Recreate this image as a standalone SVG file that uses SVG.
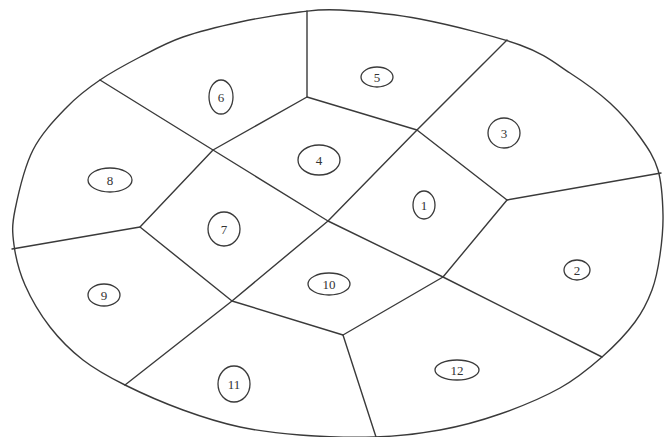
<svg xmlns="http://www.w3.org/2000/svg" width="664" height="437" viewBox="0 0 664 437">
<style>
.ln{fill:none;stroke:#3a3a3a;stroke-width:1.4;stroke-linejoin:round;stroke-linecap:round}
.lb ellipse{fill:none;stroke:#3a3a3a;stroke-width:1.3}
.lb text{font-family:"Liberation Serif","DejaVu Serif",serif;font-size:13px;fill:#333;text-anchor:middle;dominant-baseline:central}
</style>
<rect width="664" height="437" fill="#fff"/>
<g id="outline">
<path class="ln" d="M340,10 C360,11.17 390,13.17 420,19 S495,36 520,45 S555,63.3 570,73 S598.3,92.3 610,103 S632,125.8 640,137 S654.2,157 658,170 S662.7,200.8 663,215 S661.8,242.5 660,255 S656.2,278.8 652,290 S643.3,310.8 635,322 S614.5,346 602,357 S577,378.5 560,388 S520,407 500,414 S460.8,426.2 440,430 S398.3,436.2 375,437 S322.5,436.7 300,435 S259.5,431.2 240,427 S202.2,417 183,410 S141.7,393.3 125,385 S95.5,369.7 83,360 S59.7,339.5 50,327 S31,298.7 25,285 S15.7,257.5 14,245 S11.8,225.8 15,210 S24.3,167.2 33,150 S55.8,118.7 67,107 S87.8,88.3 100,80 S126.2,64.2 140,57 S166.3,42.8 183,37 S220.5,26.2 240,22 S283.3,14 300,12 S320,8.83 340,10 Z"/>
</g>
<g id="connectors">
<path class="ln" d="M100,80 L213,150 L328,221 L443,277 L602,357"/>
<path class="ln" d="M125,385 L232,301 L328,221 L417,130 L507,40"/>
<path class="ln" d="M307,11 L307,97 L417,130 L507,200 L661,173"/>
<path class="ln" d="M307,97 L213,150 L140,227 L12,249"/>
<path class="ln" d="M140,227 L232,301 L343,335 L443,277 L507,200"/>
<path class="ln" d="M343,335 L376,437"/>
</g>
<g id="cell-1" class="lb"><ellipse cx="424" cy="205" rx="11" ry="14"/><text x="424" y="205">1</text></g>
<g id="cell-2" class="lb"><ellipse cx="577" cy="270" rx="13" ry="10"/><text x="577" y="270">2</text></g>
<g id="cell-3" class="lb"><ellipse cx="504" cy="133" rx="16" ry="15"/><text x="504" y="133">3</text></g>
<g id="cell-4" class="lb"><ellipse cx="319" cy="160" rx="21" ry="15"/><text x="319" y="160">4</text></g>
<g id="cell-5" class="lb"><ellipse cx="377" cy="77" rx="16" ry="10"/><text x="377" y="77">5</text></g>
<g id="cell-6" class="lb"><ellipse cx="221" cy="97" rx="12" ry="17"/><text x="221" y="97">6</text></g>
<g id="cell-7" class="lb"><ellipse cx="224" cy="229" rx="16" ry="17"/><text x="224" y="229">7</text></g>
<g id="cell-8" class="lb"><ellipse cx="110" cy="180" rx="22" ry="12"/><text x="110" y="180">8</text></g>
<g id="cell-9" class="lb"><ellipse cx="104" cy="295" rx="16" ry="11"/><text x="104" y="295">9</text></g>
<g id="cell-10" class="lb"><ellipse cx="329" cy="284" rx="21" ry="11"/><text x="329" y="284">10</text></g>
<g id="cell-11" class="lb"><ellipse cx="234" cy="384" rx="16" ry="18"/><text x="234" y="384">11</text></g>
<g id="cell-12" class="lb"><ellipse cx="457" cy="370" rx="22" ry="10"/><text x="457" y="370">12</text></g>
</svg>
